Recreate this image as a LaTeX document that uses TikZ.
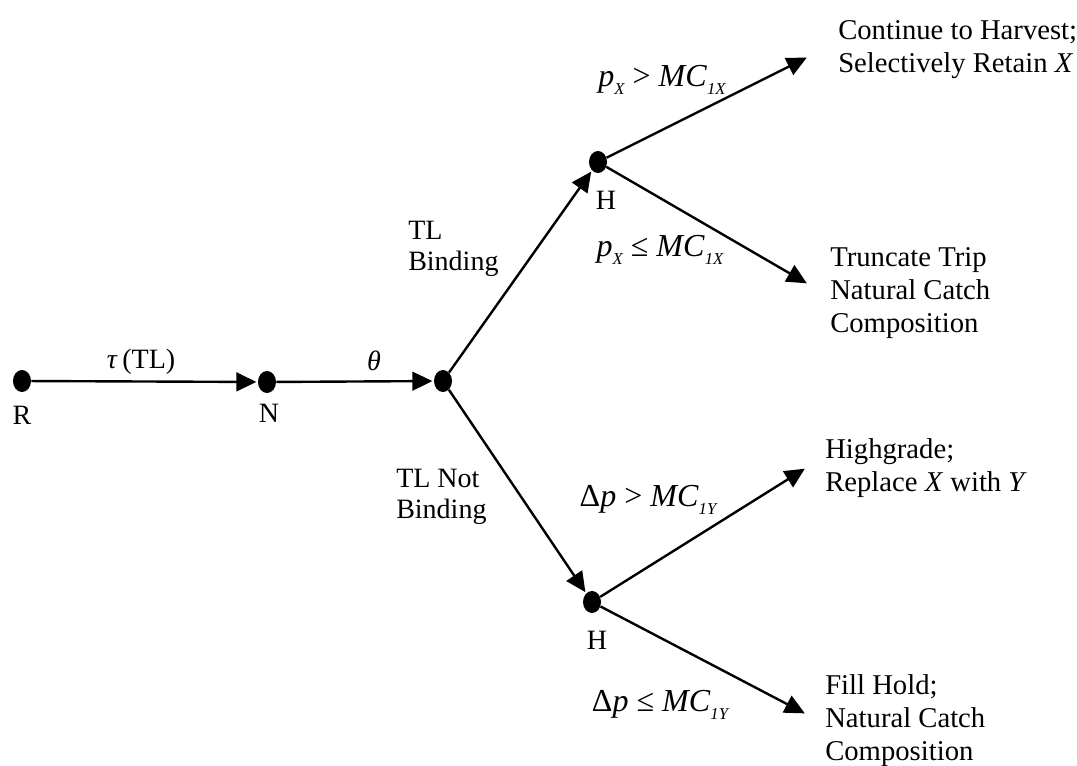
\documentclass[tikz,border=0pt]{standalone}
\usepackage{fontspec}
\setmainfont{Liberation Serif}
\usetikzlibrary{arrows.meta,shapes.geometric}
\newcommand{\sbx}[1]{\raisebox{-0.5ex}{\fontsize{12.5}{12.5}\selectfont\itshape #1}}
\begin{document}
\begin{tikzpicture}[x=0.75pt,y=-0.75pt,
  dot/.style={ellipse,fill=black,inner sep=0pt,minimum width=13.5pt,minimum height=16.5pt},
  arr/.style={-{Triangle[length=15pt,width=14pt]},line width=1.8pt,shorten >=1pt},
  lbl/.style={font=\fontsize{21}{23.5}\selectfont,inner sep=0pt},
  res/.style={font=\fontsize{21.5}{25}\selectfont,align=left,anchor=north west,inner sep=0pt},
  cond/.style={font=\fontsize{24}{26}\selectfont,inner sep=0pt}]
\useasboundingbox (0,0) rectangle (1077,766);
\node[dot] (R) at (22,381) {};
\node[dot] (N) at (267,382) {};
\node[dot] (M) at (443,381) {};
\node[dot] (H1) at (598,162) {};
\node[dot] (H2) at (592,602) {};
\node[lbl] (lR) at (22,415) {R};
\node[lbl] (lN) at (269,413) {N};
\node[lbl] (lH1) at (606,200) {H};
\node[lbl] (lH2) at (597,640) {H};
\coordinate (e1) at (808,57);
\coordinate (e2) at (808,284);
\coordinate (e3) at (806,468);
\coordinate (e4) at (806,714);
\draw[arr] (R) -- (N);
\draw[arr] (N) -- (M);
\draw[arr] (M) -- (H1);
\draw[arr] (M) -- (H2);
\draw[arr] (H1) -- (e1);
\draw[arr] (H1) -- (e2);
\draw[arr] (H2) -- (e3);
\draw[arr] (H2) -- (e4);
\node[lbl] (tau) at (141,362) {\textit{τ}\,(TL)};
\node[lbl] (theta) at (374,361) {\textit{θ}};
\node[lbl,align=left,anchor=west] (b1) at (408,249) {TL\\Binding};
\node[lbl,align=left,anchor=west] (b2) at (396,497) {TL Not\\Binding};
\node[cond] (c1) at (662,80) {\textit{p}\sbx{X} > \textit{MC}\sbx{1X}};
\node[cond] (c2) at (660,250) {\textit{p}\sbx{X} ≤ \textit{MC}\sbx{1X}};
\node[cond] (c3) at (648,500) {Δ\textit{p} > \textit{MC}\sbx{1Y}};
\node[cond] (c4) at (660,705) {Δ\textit{p} ≤ \textit{MC}\sbx{1Y}};
\node[res] (t1) at (838,20) {Continue to Harvest;\\Selectively Retain \textit{X}};
\node[res] (t2) at (830,247) {Truncate Trip\\Natural Catch\\Composition};
\node[res] (t3) at (825,438) {Highgrade;\\Replace \textit{X} with \textit{Y}};
\node[res] (t4) at (825,674) {Fill Hold;\\Natural Catch\\Composition};
\end{tikzpicture}
\end{document}
